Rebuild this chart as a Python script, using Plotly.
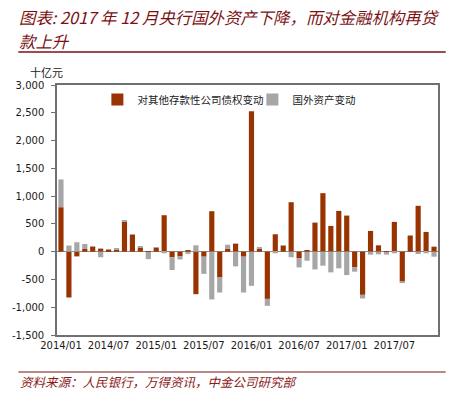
import plotly.graph_objects as go

months = [f"{y}/{m:02d}" for y in (2014, 2015, 2016, 2017) for m in range(1, 13)]

claims_change = [800, -825, -85, 48, 85, 55, 30, 42, 548, 300, 78, -5,
                 72, 656, -100, -85, 20, -765, -90, 728, -465, 55, 145, -90,
                 2528, 48, -850, 313, 108, 890, -120, 18, 523, 1053, 463, 734,
                 650, -283, -777, 373, 114, -5, 536, -542, 283, 825, 355, 90]
foreign_change = [500, 110, 170, 90, 5, -100, 10, 8, 10, 8, 10, -130,
                  5, -30, -230, -55, -40, 115, -310, -860, -270, 70, -265, -645,
                  -615, 24, -125, -30, 5, -100, -163, -163, -320, -253, -373, -300,
                  -421, -78, -66, -54, -48, -48, -30, -24, 5, -42, -30, -90]

x_tick_vals = ["2014/01", "2014/07", "2015/01", "2015/07", "2016/01", "2016/07", "2017/01", "2017/07"]
y_tick_vals = [-1500, -1000, -500, 0, 500, 1000, 1500, 2000, 2500, 3000]
y_tick_text = ["-1,500", "-1,000", "-500", "0", "500", "1,000", "1,500", "2,000", "2,500", "3,000"]

RED = "#993300"
GRAY = "#A6A6A6"
CJK = "Noto Sans CJK SC"

fig = go.Figure()
fig.add_trace(go.Bar(x=months, y=claims_change, name="对其他存款性公司债权变动",
                     marker=dict(color=RED, line=dict(width=0))))
fig.add_trace(go.Bar(x=months, y=foreign_change, name="国外资产变动",
                     marker=dict(color=GRAY, line=dict(width=0))))

fig.update_layout(
    width=452, height=393,
    margin=dict(l=45, r=13, t=85, b=58),
    paper_bgcolor="white", plot_bgcolor="white",
    barmode="relative", bargap=0.35,
    font=dict(family="DejaVu Sans", size=10, color="#1a1a1a"),
    legend=dict(orientation="h", x=0.106, y=1.0, xanchor="left", yanchor="top",
                font=dict(family=CJK, size=10.5, color="#1a1a1a"),
                bgcolor="rgba(0,0,0,0)", itemwidth=30, traceorder="normal",
                entrywidth=110, entrywidthmode="pixels"),
    xaxis=dict(type="category", tickmode="array", tickvals=x_tick_vals, ticktext=x_tick_vals,
               showline=True, mirror=True, linecolor="#707070", linewidth=1.5,
               ticks="", showgrid=False, tickfont=dict(size=10, family="DejaVu Sans"),
               range=[-0.5, 47.5]),
    yaxis=dict(range=[-1500, 3000], tickmode="array", tickvals=y_tick_vals, ticktext=y_tick_text,
               showline=True, mirror=True, linecolor="#707070", linewidth=1.5,
               ticks="outside", ticklen=4, tickcolor="#707070", showgrid=False,
               ticklabelstandoff=5,
               zeroline=True, zerolinecolor="#8c8c8c", zerolinewidth=1,
               tickfont=dict(size=10, family="DejaVu Sans")),
)

# Title (two lines)
title_font = dict(family=CJK, size=16.4, color="#7B1113")
fig.add_annotation(xref="paper", yref="paper", x=-0.1015, y=1.272, xanchor="left", yanchor="middle",
                   text="<i>图表: 2017 年 12 月央行国外资产下降，而对金融机构再贷</i>",
                   showarrow=False, align="left", borderpad=0, font=title_font)
fig.add_annotation(xref="paper", yref="paper", x=-0.1015, y=1.178, xanchor="left", yanchor="middle",
                   text="<i>款上升</i>",
                   showarrow=False, align="left", borderpad=0, font=title_font)
# unit label
fig.add_annotation(xref="paper", yref="paper", x=-0.076, y=1.052, xanchor="left", yanchor="middle",
                   text="十亿元", showarrow=False, font=dict(family=CJK, size=11, color="#1a1a1a"))
# source
fig.add_annotation(xref="paper", yref="paper", x=-0.1015, y=-0.184, xanchor="left", yanchor="middle",
                   text="<i>资料来源：人民银行，万得资讯，中金公司研究部</i>", showarrow=False,
                   font=dict(family=CJK, size=12.5, color="#8B1A1A"))
# rule lines
fig.add_shape(type="line", xref="paper", yref="paper", x0=-0.1015, x1=1.0203, y0=1.132, y1=1.132,
              line=dict(color="#7B1113", width=1.5))
fig.add_shape(type="line", xref="paper", yref="paper", x0=-0.1015, x1=1.0203, y0=-0.148, y1=-0.148,
              line=dict(color="#7B1113", width=1))

fig.write_html("out.html", config={"displayModeBar": False},
               post_script="document.body.style.margin='0';")
